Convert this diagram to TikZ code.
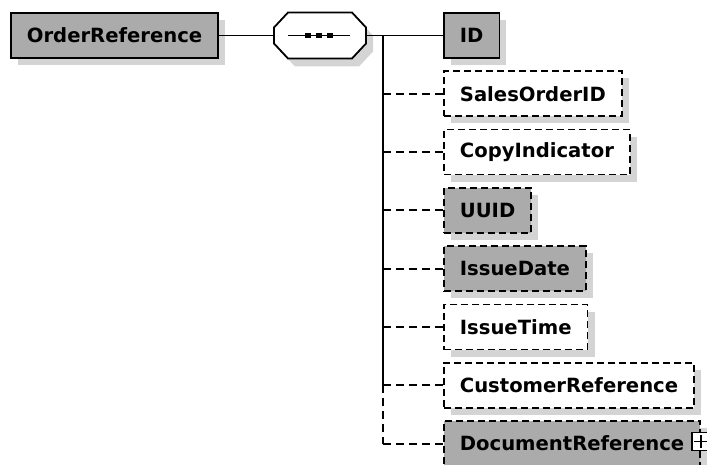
\documentclass[tikz,border=0pt]{standalone}
\usepackage{fontspec}
\setmainfont{DejaVu Sans}
\usetikzlibrary{positioning, shadows}

\definecolor{elemgray}{HTML}{ABABAB}
\definecolor{shadegray}{HTML}{D4D4D4}

\begin{document}
\begin{tikzpicture}[
    x=1pt, y=1pt,
    every node/.style={draw, line width=1.8pt, font=\fontsize{19.6}{22}\selectfont\bfseries},
    element/.style={rectangle, minimum height=45pt, inner xsep=16pt, inner ysep=0pt, fill=white,
        drop shadow={shadow xshift=7pt, shadow yshift=-7pt, fill=shadegray, opacity=1}},
    filled/.style={fill=elemgray},
    optional/.style={dash pattern=on 7pt off 4pt},
    seqbox/.style={rectangle, draw=none, minimum width=92pt, minimum height=46pt, inner sep=0pt, outer sep=0pt},
    dot/.style={rectangle, draw=none, fill=black, minimum size=5.5pt, inner sep=0pt},
    expander/.style={rectangle, fill=white, minimum size=18pt, inner sep=0pt, line width=1.4pt},
    link/.style={line width=1.8pt, dash pattern=on 8pt off 5pt},
    wire/.style={line width=1.8pt}
]
\useasboundingbox (0,0) rectangle (707,-465);

% Root element and sequence
\node[element, filled, anchor=west] (order) at (10,-35.5) {OrderReference};
\node[seqbox] (seq) at (320,-35.5) {};
\fill[shadegray] ([shift={(7,-8)}]seq.west) ++(0,8) -- ++(14,15) -- ++(64,0) -- ++(14,-15) -- ++(0,-16)
    -- ++(-14,-15) -- ++(-64,0) -- ++(-14,15) -- cycle;
\draw[wire, fill=white] (seq.west) ++(0,8) -- ++(14,15) -- ++(64,0) -- ++(14,-15) -- ++(0,-16)
    -- ++(-14,-15) -- ++(-64,0) -- ++(-14,15) -- cycle;
\draw[wire] ([xshift=14pt]seq.west) -- ([xshift=-16pt]seq.east);
\foreach \dx in {-11,0,11}
    \node[dot, xshift=\dx pt] at ([xshift=-1pt]seq.center) {};

% Children
\node[element, filled, anchor=west] (id) at (443,-35.5) {ID};
\node[element, optional, below right=11.5pt and 0pt of id.south west] (salesid) {SalesOrderID};
\node[element, optional, below right=11.5pt and 0pt of salesid.south west] (copy) {CopyIndicator};
\node[element, optional, filled, below right=11.5pt and 0pt of copy.south west] (uuid) {UUID};
\node[element, optional, filled, below right=11.5pt and 0pt of uuid.south west] (idate) {IssueDate};
\node[element, optional, below right=11.5pt and 0pt of idate.south west] (itime) {IssueTime};
\node[element, optional, below right=11.5pt and 0pt of itime.south west] (custref) {CustomerReference};
\node[element, optional, filled, below right=11.5pt and 0pt of custref.south west] (docref) {DocumentReference};
\node[expander] (docplus) at ([yshift=2pt]docref.east) {};
\draw[line width=1.4pt] ([yshift=-3pt]docplus.north) -- ([yshift=3pt]docplus.south);
\draw[line width=1.4pt] ([xshift=3pt]docplus.west) -- ([xshift=-3pt]docplus.east);

% Connectors
\coordinate (bus) at (383,0);
\draw[wire] (order) -- (seq);
\draw[wire] (seq.east) -| (custref.west -| bus);
\draw[link] (custref.west -| bus) -- (docref.west -| bus);
\draw[wire] (id.west -| bus) -- (id.west);
\foreach \n in {salesid, copy, uuid, idate, itime, custref, docref}
    \draw[link] (\n.west -| bus) -- (\n.west);

\end{tikzpicture}
\end{document}
